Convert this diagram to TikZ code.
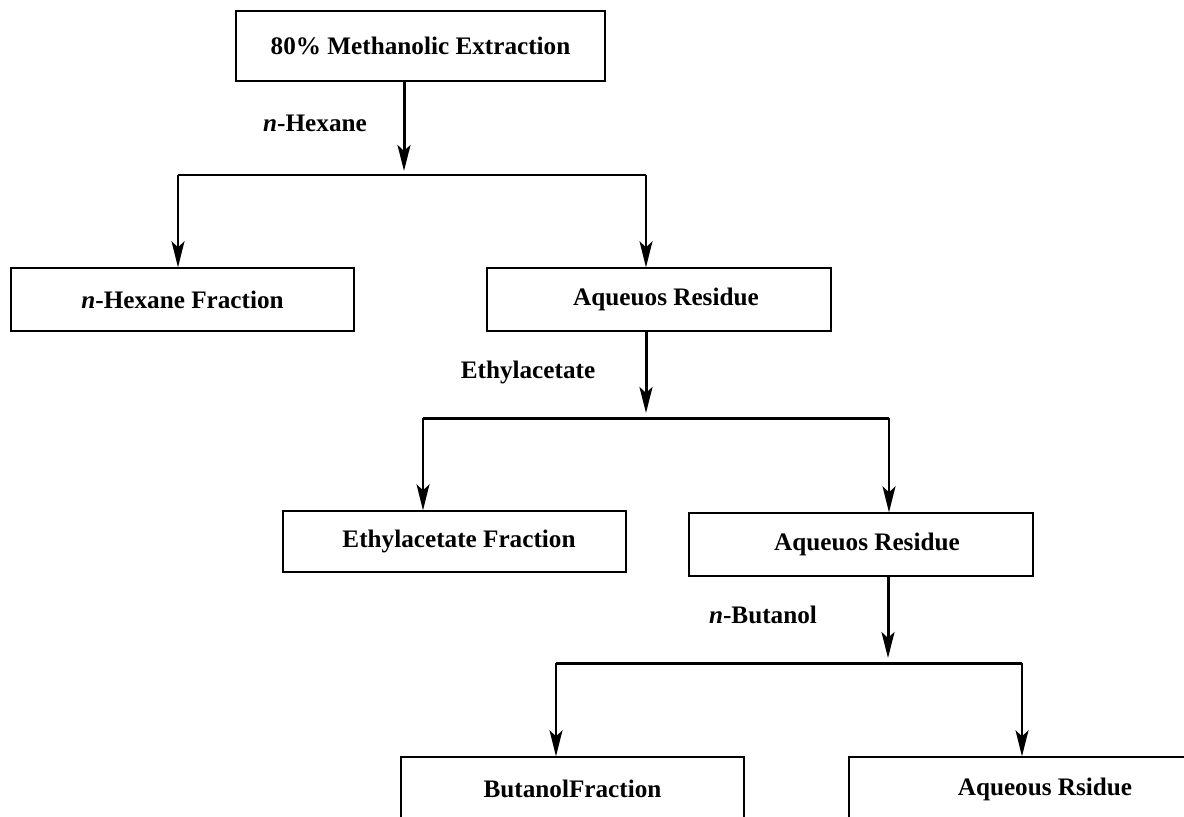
\documentclass[tikz,border=0pt]{standalone}
\usepackage{fontspec}
\setmainfont{Liberation Serif}
\usetikzlibrary{arrows.meta}
\begin{document}
\begin{tikzpicture}[x=0.5pt,y=-0.5pt,
  txt/.style={font=\bfseries\fontsize{12.6}{14}\selectfont, inner sep=0pt},
  box/.style={draw, line width=0.7pt, rectangle, inner sep=0pt, txt},
  thinline/.style={line width=0.7pt},
  vline/.style={line width=1pt, -{Stealth[length=13pt,width=6.5pt,inset=3pt]}},
  trunk/.style={line width=1.5pt, -{Stealth[length=13pt,width=6.5pt,inset=3pt]}},
  heavyline/.style={line width=1.5pt}
]
\useasboundingbox (0,0) rectangle (1184,816);
% boxes
\node[box, minimum width=184.5pt, minimum height=35pt] (m) at (420.5,46) {80\% Methanolic Extraction};
\node[box, minimum width=171.5pt, minimum height=31.5pt] (hf) at (182.5,299.5) {\textit{n}-Hexane Fraction};
\node[box, minimum width=172pt, minimum height=31.5pt] (ar1) at (659,299.5) {\hspace*{7pt}Aqueuos Residue};
\node[box, minimum width=171.5pt, minimum height=30.5pt] (ef) at (454.5,541.5) {\hspace*{4.5pt}Ethylacetate Fraction};
\node[box, minimum width=172pt, minimum height=31.5pt] (ar2) at (861,544.5) {\hspace*{6pt}Aqueuos Residue};
\node[box, minimum width=171.5pt, minimum height=32pt] (bf) at (572.5,789) {ButanolFraction};
\node[box, minimum width=196pt, minimum height=32pt] (ar3) at (1045,789) {Aqueous Rsidue};
% labels
\node[txt] (l1) at (315,123) {\textit{n}-Hexane};
\node[txt] (l2) at (528,372) {Ethylacetate};
\node[txt] (l3) at (763,615) {\textit{n}-Butanol};
% junction coordinates
\coordinate (j1) at (404,171);
\coordinate (b1L) at (178,175);
\coordinate (b1R) at (646,175);
\coordinate (j2) at (646,413);
\coordinate (b2L) at (423,418);
\coordinate (b2R) at (889,418);
\coordinate (j3) at (888,658);
\coordinate (b3L) at (556,663);
\coordinate (b3R) at (1022,663);
% level 1
\draw[trunk] (m.south -| j1) -- (j1);
\draw[thinline] (b1L) -- (b1R);
\draw[vline] (b1L) -- (hf.north -| b1L);
\draw[vline] (b1R) -- (ar1.north -| b1R);
% level 2
\draw[trunk] (ar1.south -| j2) -- (j2);
\draw[heavyline] (b2L) -- (b2R);
\draw[vline] (b2L) -- (ef.north -| b2L);
\draw[vline] (b2R) -- (ar2.north -| b2R);
% level 3
\draw[trunk] (ar2.south -| j3) -- (j3);
\draw[heavyline] (b3L) -- (b3R);
\draw[vline] (b3L) -- (bf.north -| b3L);
\draw[vline] (b3R) -- (ar3.north -| b3R);
\end{tikzpicture}
\end{document}
